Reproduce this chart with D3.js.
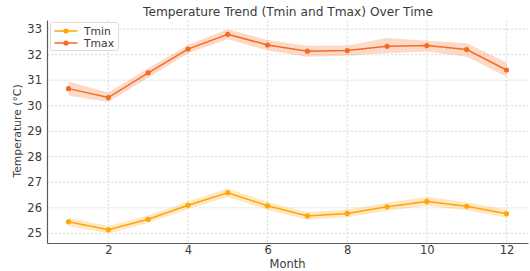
<!DOCTYPE html>
<html>
<head>
<meta charset="utf-8">
<script src="https://cdn.jsdelivr.net/npm/d3@7"></script>
<style>
  body { margin: 0; background: #fff; }
  text { font-family: "DejaVu Sans", sans-serif; }
</style>
</head>
<body>
<svg id="chart" width="530" height="271"></svg>
<script>
// data
var months = [1, 2, 3, 4, 5, 6, 7, 8, 9, 10, 11, 12];
var tmin = [25.45, 25.14, 25.55, 26.10, 26.59, 26.08, 25.68, 25.78, 26.04, 26.25, 26.06, 25.77];
var tminLo = [25.29, 25.00, 25.40, 25.95, 26.42, 25.92, 25.53, 25.63, 25.88, 26.08, 25.90, 25.61];
var tminHi = [25.61, 25.29, 25.70, 26.25, 26.76, 26.23, 25.83, 25.93, 26.20, 26.43, 26.22, 25.93];
var tmax = [30.67, 30.32, 31.29, 32.22, 32.80, 32.38, 32.14, 32.16, 32.33, 32.36, 32.20, 31.40];
var tmaxLo = [30.39, 30.15, 31.10, 32.06, 32.61, 32.16, 31.92, 31.96, 32.06, 32.13, 31.92, 31.14];
var tmaxHi = [30.95, 30.52, 31.47, 32.38, 33.00, 32.58, 32.35, 32.36, 32.65, 32.55, 32.45, 31.69];
var xTicks = [2, 4, 6, 8, 10, 12];
var yTicks = [25, 26, 27, 28, 29, 30, 31, 32, 33];

var series = [
  {name: "Tmin", vals: tmin, lo: tminLo, hi: tminHi, color: "#ffa50a"},
  {name: "Tmax", vals: tmax, lo: tmaxLo, hi: tmaxHi, color: "#f76a22"}
];

var svg = d3.select("#chart");
var plotLeft = 47, plotRight = 528, plotTop = 20, plotBottom = 243;

var x = d3.scaleLinear().domain([0.46, 12.54]).range([plotLeft, plotRight]);
var y = d3.scaleLinear().domain([24.62, 33.36]).range([plotBottom, plotTop]);

// grid
var grid = svg.append("g").attr("stroke", "#d6d6d6").attr("stroke-width", 0.8).attr("stroke-dasharray", "2.5,1.5");
grid.selectAll(".gx").data(xTicks).enter().append("line")
  .attr("x1", d => x(d)).attr("x2", d => x(d)).attr("y1", plotTop).attr("y2", plotBottom);
grid.selectAll(".gy").data(yTicks).enter().append("line")
  .attr("x1", plotLeft).attr("x2", plotRight).attr("y1", d => y(d)).attr("y2", d => y(d));

// bands, lines, markers
series.forEach(function(s) {
  var area = d3.area()
    .x((d, i) => x(months[i]))
    .y0((d, i) => y(s.lo[i]))
    .y1((d, i) => y(s.hi[i]));
  svg.append("path").datum(s.vals).attr("d", area)
    .attr("fill", s.color).attr("fill-opacity", 0.25);

  var line = d3.line().x((d, i) => x(months[i])).y(d => y(d));
  svg.append("path").datum(s.vals).attr("d", line)
    .attr("fill", "none").attr("stroke", s.color).attr("stroke-width", 1.5);

  svg.append("g").selectAll("circle").data(s.vals).enter().append("circle")
    .attr("cx", (d, i) => x(months[i])).attr("cy", d => y(d)).attr("r", 2.6)
    .attr("fill", s.color);
});

// axes
var xAxis = svg.append("g").attr("transform", "translate(0," + plotBottom + ")")
  .call(d3.axisBottom(x).tickValues(xTicks).tickSize(0).tickPadding(3));
var yAxis = svg.append("g").attr("transform", "translate(" + plotLeft + ",0)")
  .call(d3.axisLeft(y).tickValues(yTicks).tickSize(0).tickPadding(5));
[xAxis, yAxis].forEach(function(a) {
  a.select(".domain").attr("stroke", "#5a5a5a").attr("stroke-width", 1.2);
  a.selectAll("text").attr("font-size", 11.5).attr("fill", "#3a3a3a")
    .attr("font-family", "DejaVu Sans, sans-serif");
});

// titles
svg.append("text").attr("x", 288).attr("y", 16).attr("text-anchor", "middle")
  .attr("font-size", 12.2).attr("fill", "#3a3a3a").text("Temperature Trend (Tmin and Tmax) Over Time");
svg.append("text").attr("x", 287.5).attr("y", 268).attr("text-anchor", "middle")
  .attr("font-size", 11.5).attr("fill", "#3a3a3a").text("Month");
svg.append("text").attr("transform", "translate(21,131) rotate(-90)").attr("text-anchor", "middle")
  .attr("font-size", 10.8).attr("fill", "#3a3a3a").text("Temperature (°C)");

// legend
var lg = svg.append("g").attr("transform", "translate(50.5,22.5)");
lg.append("rect").attr("width", 68).attr("height", 28).attr("rx", 2.5)
  .attr("fill", "#fff").attr("fill-opacity", 0.85).attr("stroke", "#dcdcdc");
series.forEach(function(s, i) {
  var ly = 8.5 + i * 12;
  lg.append("line").attr("x1", 4).attr("x2", 27).attr("y1", ly).attr("y2", ly)
    .attr("stroke", s.color).attr("stroke-width", 1.5);
  lg.append("circle").attr("cx", 15.5).attr("cy", ly).attr("r", 2.6).attr("fill", s.color);
  lg.append("text").attr("x", 33.5).attr("y", ly + 3.8).attr("font-size", 10.8)
    .attr("fill", "#3a3a3a").text(s.name);
});
</script>
</body>
</html>
